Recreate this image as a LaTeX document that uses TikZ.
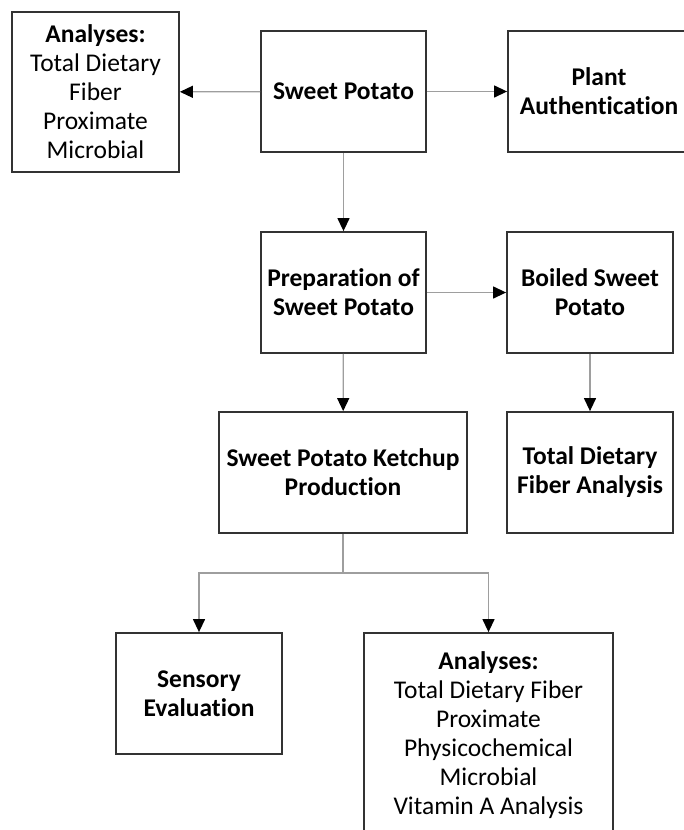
\documentclass[tikz,border=0pt]{standalone}
\usepackage{fontspec}
\setmainfont[Ligatures=NoCommon]{Carlito}
\usetikzlibrary{arrows.meta}

\tikzset{
  stagebox/.style={rectangle,draw=black!80,line width=1.8pt,align=center,inner sep=0pt,
    minimum height=121pt,minimum width=165pt,font=\fontsize{25.5}{29}\selectfont\bfseries},
  listbox/.style={stagebox,font=\fontsize{25.5}{29}\selectfont},
  flow/.style={draw=black!38,line width=1.3pt},
}

\begin{document}
\begin{tikzpicture}[x=1pt,y=-1pt,>={Triangle[length=13pt,width=12pt,color=black]},line join=miter]
        \clip (0,0) rectangle (684,830);
        \fill[white] (0,0) rectangle (684,830);
        %
        \node[listbox,minimum width=167pt,minimum height=160pt] (analysesTop) at (95.5,92) {\textbf{Analyses:}\\Total Dietary\\Fiber\\Proximate\\Microbial};
        \node[stagebox] (sweetPotato) at (343.5,91.5) {Sweet Potato};
        \node[stagebox,minimum width=182pt] (plantAuth) at (599,91.5) {Plant\\Authentication};
        \node[stagebox] (preparation) at (343.5,292.5) {Preparation of\\Sweet Potato};
        \node[stagebox,minimum width=166pt] (boiled) at (590,292.5) {Boiled Sweet\\Potato};
        \node[stagebox,minimum width=248pt] (ketchup) at (343,472.5) {Sweet Potato Ketchup\\Production};
        \node[stagebox,minimum width=166pt] (fiberAnalysis) at (590,472.5) {Total Dietary\\Fiber Analysis};
        \node[stagebox,minimum width=166pt] (sensory) at (199,693.5) {Sensory\\Evaluation};
        \node[listbox,minimum width=249pt,minimum height=204pt] (analysesBottom) at (488.5,735) {\textbf{Analyses:}\\Total Dietary Fiber\\Proximate\\Physicochemical\\Microbial\\Vitamin A Analysis};
        %
        \coordinate (split) at (343,573);
        %
        \draw [flow,->] (sweetPotato) to (analysesTop);
        \draw [flow,->] (sweetPotato) to (plantAuth);
        \draw [flow,->] (sweetPotato) to (preparation);
        \draw [flow,->] (preparation) to (boiled);
        \draw [flow,->] (preparation) to (ketchup);
        \draw [flow,->] (boiled) to (fiberAnalysis);
        \draw [flow] (ketchup) to (split);
        \draw [flow,->] (split) -| (sensory.north);
        \draw [flow,->] (split) -| (analysesBottom.north);
        %
    \end{tikzpicture}
\end{document}
